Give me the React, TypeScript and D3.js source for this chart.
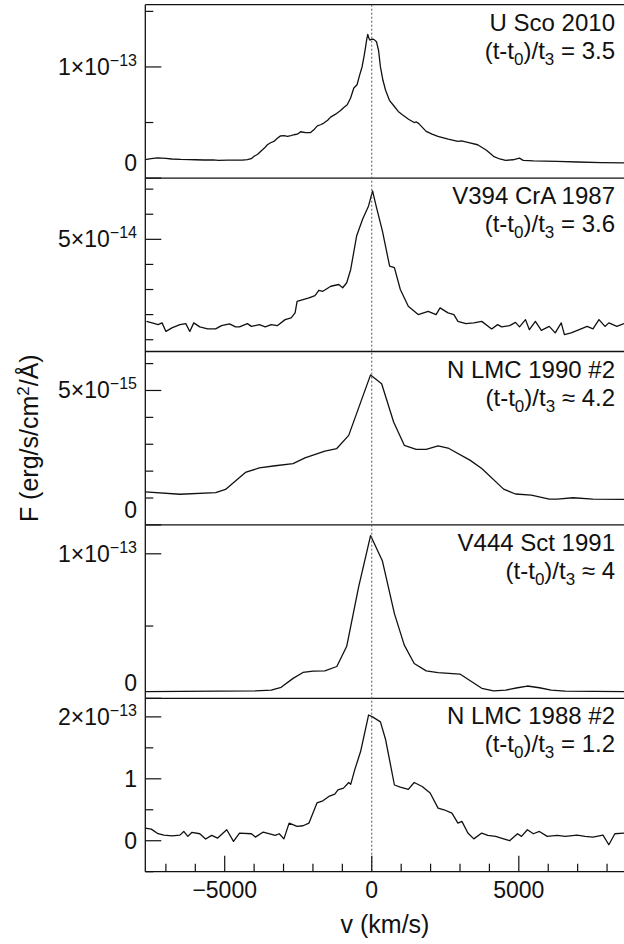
import React from "react";
import * as d3 from "d3";

const W = 624;
const H = 944;
const PLOT_LEFT = 145.3;
const PLOT_RIGHT = 624.7;
const PLOT_TOP = 4.7;
const PLOT_BOTTOM = 871.7;
const FONT = "'Liberation Sans', Arial, Helvetica, sans-serif";

const X_DOMAIN: [number, number] = [-7700, 8600];
const X_MAJOR = [-5000, 0, 5000];
const X_MINOR = [-7000, -6000, -4000, -3000, -2000, -1000, 1000, 2000, 3000, 4000, 6000, 7000, 8000];
const X_LABELS = ["\u22125000", "0", "5000"];

// Panel 1: U Sco 2010 (units 1e-13)
const uScoV = [-7700, -7500, -7280, -7000, -6800, -6500, -6200, -6000, -5700, -5400, -5200, -4900, -4600, -4400, -4230, -4100, -4000, -3880, -3780, -3650, -3550, -3440, -3330, -3200, -3100, -2980, -2870, -2750, -2650, -2530, -2420, -2250, -2080, -1950, -1850, -1740, -1630, -1500, -1400, -1230, -1060, -950, -835, -720, -610, -500, -420, -330, -260, -210, -170, -136, -100, -68, 0, 70, 160, 230, 295, 380, 470, 600, 770, 900, 1040, 1250, 1440, 1520, 1600, 1850, 2050, 2250, 2600, 2930, 3050, 3300, 3600, 3900, 4140, 4350, 4550, 4800, 5020, 5150, 5500, 6300, 7000, 7800, 8600];
const uScoF = [0.166, 0.175, 0.182, 0.178, 0.172, 0.168, 0.166, 0.165, 0.163, 0.164, 0.16, 0.161, 0.162, 0.161, 0.166, 0.175, 0.196, 0.215, 0.24, 0.27, 0.3, 0.318, 0.33, 0.36, 0.38, 0.382, 0.376, 0.382, 0.39, 0.395, 0.417, 0.41, 0.41, 0.44, 0.47, 0.48, 0.495, 0.52, 0.549, 0.575, 0.608, 0.635, 0.66, 0.72, 0.81, 0.84, 0.92, 1.0, 1.1, 1.18, 1.25, 1.293, 1.26, 1.242, 1.25, 1.248, 1.227, 1.15, 1.0, 0.88, 0.79, 0.7, 0.644, 0.6, 0.57, 0.53, 0.5, 0.505, 0.49, 0.42, 0.395, 0.375, 0.35, 0.33, 0.335, 0.32, 0.3, 0.25, 0.196, 0.172, 0.16, 0.165, 0.18, 0.16, 0.155, 0.15, 0.145, 0.14, 0.136];

// Panel 2: V394 CrA 1987 (units 1e-14)
const v394V = [-7660, -7470, -7267, -7131, -6998, -6795, -6523, -6323, -6187, -6052, -5848, -5580, -5308, -5108, -4836, -4633, -4497, -4229, -4093, -3822, -3621, -3418, -3214, -2946, -2742, -2607, -2539, -2338, -2135, -1931, -1799, -1663, -1392, -1123, -988, -852, -716, -516, -312, -109, 27, 160, 363, 607, 770, 971, 1242, 1578, 1918, 2186, 2322, 2593, 2793, 2929, 3200, 3469, 3740, 4076, 4280, 4416, 4687, 4887, 5023, 5227, 5359, 5563, 5766, 6034, 6238, 6442, 6550, 6778, 7117, 7321, 7521, 7725, 7929, 8061, 8333, 8577];
const v394F = [1.73, 1.67, 1.6, 1.67, 1.33, 1.47, 1.6, 1.64, 1.33, 1.67, 1.51, 1.43, 1.43, 1.56, 1.63, 1.51, 1.51, 1.64, 1.53, 1.6, 1.51, 1.6, 1.56, 1.8, 1.87, 2.07, 2.53, 2.6, 2.67, 2.76, 2.97, 2.93, 3.13, 3.2, 3.07, 3.27, 3.8, 5.13, 5.8, 6.33, 6.93, 6.27, 5.33, 3.93, 3.87, 3.0, 2.33, 2.0, 2.13, 2.0, 2.27, 2.07, 2.0, 1.73, 1.64, 1.67, 1.73, 1.43, 1.6, 1.51, 1.56, 1.69, 1.51, 1.8, 1.4, 1.73, 1.37, 1.53, 1.27, 1.67, 1.2, 1.27, 1.43, 1.53, 1.43, 1.8, 1.53, 1.67, 1.53, 1.64];

// Panel 3: N LMC 1990 #2 (units 1e-15)
const lmc90V = [-7700, -6523, -5308, -4972, -4297, -3822, -3282, -2675, -2271, -1595, -1188, -784, -41, 336, 743, 1106, 1510, 1850, 2254, 2593, 3336, 3740, 4483, 4887, 5427, 6034, 6306, 6846, 7521, 8600];
const lmc90F = [1.23, 1.14, 1.2, 1.32, 1.95, 2.12, 2.2, 2.28, 2.49, 2.74, 2.84, 3.33, 5.58, 5.25, 3.83, 2.96, 2.81, 2.81, 2.94, 2.86, 2.41, 2.1, 1.33, 1.15, 1.11, 0.96, 0.96, 1.01, 0.96, 0.95];

// Panel 4: V444 Sct 1991 (units 1e-13)
const v444V = [-7700, -3957, -3418, -3082, -2675, -2338, -1999, -1595, -1188, -852, -448, -41, 363, 770, 1106, 1443, 1850, 2254, 2997, 3401, 3740, 4144, 4552, 4955, 5291, 5698, 6102, 6578, 8600];
const v444F = [0.046, 0.052, 0.057, 0.076, 0.138, 0.179, 0.188, 0.19, 0.22, 0.36, 0.77, 1.126, 0.95, 0.586, 0.368, 0.241, 0.19, 0.177, 0.168, 0.115, 0.069, 0.052, 0.057, 0.073, 0.085, 0.073, 0.057, 0.05, 0.046];

// Panel 5: N LMC 1988 #2 (units 1e-13)
const lmc88V = [-7700, -7497, -7267, -7066, -6795, -6523, -6391, -6255, -6119, -5848, -5648, -5444, -5240, -4931, -4701, -4497, -4093, -3957, -3689, -3282, -3146, -2987, -2810, -2539, -2338, -2135, -1863, -1663, -1459, -1256, -1150, -960, -784, -716, -580, -380, -109, 27, 295, 472, 770, 971, 1242, 1443, 1714, 1985, 2254, 2457, 2726, 2929, 3065, 3268, 3469, 3740, 3944, 4212, 4483, 4687, 4955, 5091, 5291, 5495, 5698, 5967, 6306, 6578, 6982, 7253, 7521, 7861, 8061, 8265, 8600];
const lmc88F = [0.205, 0.188, 0.113, 0.091, 0.08, 0.091, 0.15, 0.07, 0.134, 0.113, 0.027, 0.086, 0.043, 0.177, -0.011, 0.124, 0.113, 0.059, 0.14, 0.086, 0.113, 0.03, 0.285, 0.231, 0.242, 0.285, 0.61, 0.645, 0.715, 0.753, 0.82, 0.85, 0.94, 0.91, 1.145, 1.44, 2.03, 2.0, 1.92, 1.63, 0.9, 0.866, 0.83, 0.94, 0.876, 0.77, 0.527, 0.5, 0.447, 0.285, 0.312, 0.124, 0.03, 0.124, 0.086, 0.07, 0.03, 0.0, 0.113, 0.07, 0.177, 0.113, 0.15, 0.07, 0.086, 0.07, 0.091, 0.07, 0.059, 0.091, -0.065, 0.113, 0.124];

const NAMES = ["U Sco 2010", "V394 CrA 1987", "N LMC 1990 #2", "V444 Sct 1991", "N LMC 1988 #2"];
const EPOCH_REL = ["=", "=", "\u2248", "\u2248", "="];
const EPOCH_VAL = ["3.5", "3.6", "4.2", "4", "1.2"];

type TickLabel = { v: number; main: string; exp?: string; lift?: boolean };
type Panel = {
  xs: number[];
  ys: number[];
  domain: [number, number];
  minor: number[];
  major: number[];
  labels: TickLabel[];
};

const PANELS: Panel[] = [
  { xs: uScoV, ys: uScoF, domain: [0, 1.56], minor: [0.5, 1.5], major: [0, 1], labels: [{ v: 1, main: "1\u00d710", exp: "\u221213" }, { v: 0, main: "0", lift: true }] },
  { xs: v394V, ys: v394F, domain: [0.53, 7.44], minor: [1, 2, 3, 4, 6, 7], major: [5], labels: [{ v: 5, main: "5\u00d710", exp: "\u221214" }] },
  { xs: lmc90V, ys: lmc90F, domain: [0, 6.45], minor: [1, 2, 3, 4, 6], major: [0, 5], labels: [{ v: 5, main: "5\u00d710", exp: "\u221215" }, { v: 0, main: "0", lift: true }] },
  { xs: v444V, ys: v444F, domain: [0, 1.2], minor: [0.5], major: [0, 1], labels: [{ v: 1, main: "1\u00d710", exp: "\u221213" }, { v: 0, main: "0", lift: true }] },
  { xs: lmc88V, ys: lmc88F, domain: [-0.5, 2.3], minor: [-0.5, 0.5, 1.5], major: [0, 1, 2], labels: [{ v: 2, main: "2\u00d710", exp: "\u221213" }, { v: 1, main: "1" }, { v: 0, main: "0" }] },
];

export default function App() {
  const x = d3.scaleLinear().domain(X_DOMAIN).range([PLOT_LEFT, PLOT_RIGHT]);
  const ph = (PLOT_BOTTOM - PLOT_TOP) / PANELS.length;
  const tickFs = 23;
  const supFs = 16;
  const annFs = 24;
  const subFs = 17;

  return (
    <svg width={W} height={H} style={{ display: "block", position: "absolute", left: 0, top: 0, background: "#fff" }} fontFamily={FONT}>
      <defs>
        <clipPath id="plotclip">
          <rect x={PLOT_LEFT} y={PLOT_TOP} width={PLOT_RIGHT - PLOT_LEFT} height={PLOT_BOTTOM - PLOT_TOP} />
        </clipPath>
      </defs>
      {PANELS.map((p, i) => {
        const top = PLOT_TOP + i * ph;
        const bottom = top + ph;
        const y = d3.scaleLinear().domain(p.domain).range([bottom, top]);
        const line = d3
          .line<number>()
          .x((_, k) => x(p.xs[k]))
          .y((d) => y(d));
        const inRange = (v: number) => y(v) >= top - 0.5 && y(v) <= bottom + 0.5;
        return (
          <g key={i}>
            <g clipPath="url(#plotclip)">
              <path d={line(p.ys) || ""} fill="none" stroke="#111" strokeWidth={1.3} strokeLinejoin="round" />
            </g>
            <line x1={PLOT_LEFT} x2={W} y1={top} y2={top} stroke="#111" strokeWidth={1.3} />
            {p.minor.filter(inRange).map((t) => (
              <line key={"m" + t} x1={PLOT_LEFT} x2={PLOT_LEFT + 8} y1={y(t)} y2={y(t)} stroke="#111" strokeWidth={1.2} />
            ))}
            {p.major.filter(inRange).map((t) => (
              <line key={"M" + t} x1={PLOT_LEFT} x2={PLOT_LEFT + 16} y1={y(t)} y2={y(t)} stroke="#111" strokeWidth={1.2} />
            ))}
            {p.labels.map((l) => {
              const yy = l.lift ? Math.min(y(l.v), bottom - 15) : y(l.v);
              return (
                <text key={"l" + l.v} x={137} y={yy + 8} textAnchor="end" fontSize={tickFs} fill="#111">
                  {l.main}
                  {l.exp ? (
                    <tspan dy={-9} fontSize={supFs}>
                      {l.exp}
                    </tspan>
                  ) : null}
                </text>
              );
            })}
            <text x={615} y={top + 26} textAnchor="end" fontSize={annFs} fill="#111">
              {NAMES[i]}
            </text>
            <text x={615} y={top + 54} textAnchor="end" fontSize={annFs} fill="#111">
              <tspan>(t-t</tspan>
              <tspan dy={6} fontSize={subFs}>0</tspan>
              <tspan dy={-6}>)/t</tspan>
              <tspan dy={6} fontSize={subFs}>3</tspan>
              <tspan dy={-6}>{" " + EPOCH_REL[i] + " " + EPOCH_VAL[i]}</tspan>
            </text>
          </g>
        );
      })}
      {/* zero-velocity dotted line */}
      <line x1={x(0)} x2={x(0)} y1={PLOT_TOP} y2={PLOT_BOTTOM} stroke="#555" strokeWidth={1} strokeDasharray="2,2" />
      {/* frame */}
      <line x1={PLOT_LEFT} x2={PLOT_LEFT} y1={PLOT_TOP} y2={PLOT_BOTTOM} stroke="#111" strokeWidth={1.3} />
      <line x1={PLOT_LEFT} x2={W} y1={PLOT_BOTTOM} y2={PLOT_BOTTOM} stroke="#111" strokeWidth={1.3} />
      {/* x ticks */}
      {X_MINOR.map((t) => (
        <line key={"xm" + t} x1={x(t)} x2={x(t)} y1={PLOT_BOTTOM} y2={PLOT_BOTTOM - 8} stroke="#111" strokeWidth={1.2} />
      ))}
      {X_MAJOR.map((t, k) => (
        <g key={"xM" + t}>
          <line x1={x(t)} x2={x(t)} y1={PLOT_BOTTOM} y2={PLOT_BOTTOM - 16} stroke="#111" strokeWidth={1.2} />
          <text x={x(t)} y={898} textAnchor="middle" fontSize={tickFs} fill="#111">
            {X_LABELS[k]}
          </text>
        </g>
      ))}
      <text x={(PLOT_LEFT + PLOT_RIGHT) / 2} y={933} textAnchor="middle" fontSize={25} fill="#111">
        v (km/s)
      </text>
      <text transform={`translate(38,${(PLOT_TOP + PLOT_BOTTOM) / 2}) rotate(-90)`} textAnchor="middle" fontSize={25} fill="#111">
        F (erg/s/cm
        <tspan dy={-9} fontSize={17}>2</tspan>
        <tspan dy={9}>/Å)</tspan>
      </text>
    </svg>
  );
}
